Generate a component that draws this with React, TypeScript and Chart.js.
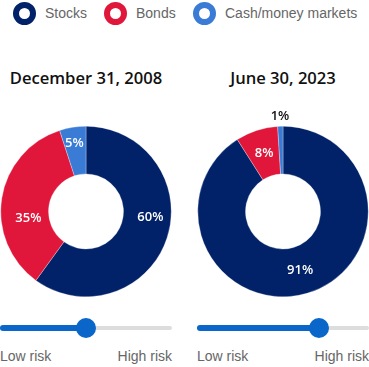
import React, { useEffect, useRef } from "react";
import { Chart, registerables } from "chart.js";

Chart.register(...registerables);

const categories = ["Stocks", "Bonds", "Cash/money markets"];
const colors = ["#012169", "#e0173b", "#3a7bd5"];
const dates = ["December 31, 2008", "June 30, 2023"];
const values2008 = [60, 35, 5];
const values2023 = [91, 8, 1];
const riskLevels = [0.5, 0.71];
const riskLabels = ["Low risk", "High risk"];

const FONT = "'Open Sans', 'Noto Sans', sans-serif";
const ARIAL = "'Liberation Sans', Arial, sans-serif";

type LabelOpt = { offsets?: Record<number, [number, number]>; outsideBelow?: number };

const labelPlugin = {
  id: "sliceLabels",
  afterDatasetsDraw(chart: any, _args: any, opts: LabelOpt) {
    const ctx = chart.ctx;
    const meta = chart.getDatasetMeta(0);
    const data = chart.data.datasets[0].data as number[];
    ctx.save();
    ctx.font = `600 13px ${FONT}`;
    ctx.textAlign = "center";
    ctx.textBaseline = "middle";
    meta.data.forEach((arc: any, i: number) => {
      const v = data[i];
      const { x, y, startAngle, endAngle, innerRadius, outerRadius } = arc.getProps(
        ["x", "y", "startAngle", "endAngle", "innerRadius", "outerRadius"],
        true
      );
      const mid = (startAngle + endAngle) / 2;
      let r = (innerRadius + outerRadius) / 2;
      let color = "#ffffff";
      if (v < (opts.outsideBelow ?? 0)) {
        r = outerRadius + 10;
        color = "#111111";
      }
      let lx = x + Math.cos(mid) * r;
      let ly = y + Math.sin(mid) * r;
      const off = opts.offsets?.[i];
      if (off) {
        lx += off[0];
        ly += off[1];
      }
      ctx.fillStyle = color;
      ctx.fillText(`${v}%`, lx, ly);
    });
    ctx.restore();
  },
};

function Donut({ values, left, offsets }: { values: number[]; left: number; offsets?: Record<number, [number, number]> }) {
  const ref = useRef<HTMLCanvasElement>(null);
  useEffect(() => {
    if (!ref.current) return;
    const chart = new Chart(ref.current, {
      type: "doughnut",
      data: {
        labels: categories,
        datasets: [
          {
            data: values,
            backgroundColor: colors,
            borderColor: "rgba(255,255,255,0.6)",
            borderWidth: 0.5,
          },
        ],
      },
      options: {
        animation: false,
        responsive: false,
        maintainAspectRatio: false,
        cutout: "44%",
        layout: { padding: { top: 26, bottom: 3, left: 0, right: 0 } },
        plugins: {
          legend: { display: false },
          tooltip: { enabled: false },
          sliceLabels: { offsets, outsideBelow: 3 },
        } as any,
      },
      plugins: [labelPlugin],
    });
    return () => chart.destroy();
  }, []);
  return (
    <canvas
      ref={ref}
      width={172}
      height={200}
      style={{ position: "absolute", left, top: 100, width: 172, height: 200 }}
    />
  );
}

function Slider({ left, level }: { left: number; level: number }) {
  const w = 172;
  const knob = level * w;
  return (
    <div style={{ position: "absolute", left, top: 316, width: w, height: 50 }}>
      <div style={{ position: "absolute", left: 0, top: 10, width: w, height: 4, borderRadius: 2, background: "#dddddd" }} />
      <div style={{ position: "absolute", left: 0, top: 9, width: knob, height: 6, borderRadius: 3, background: "#0a66c8" }} />
      <div
        style={{
          position: "absolute",
          left: knob - 10,
          top: 2,
          width: 20,
          height: 20,
          borderRadius: 10,
          background: "#0a66c8",
        }}
      />
      <div style={{ position: "absolute", left: 0, top: 32, font: `14px ${ARIAL}`, color: "#666666", lineHeight: "16px" }}>
        {riskLabels[0]}
      </div>
      <div style={{ position: "absolute", right: 0, top: 32, font: `14px ${ARIAL}`, color: "#666666", lineHeight: "16px" }}>
        {riskLabels[1]}
      </div>
    </div>
  );
}

export default function App() {
  useEffect(() => {
    document.body.style.margin = "0";
  }, []);
  const legendX = [13, 104, 193];
  return (
    <div style={{ position: "relative", width: 369, height: 367, background: "#fff", overflow: "hidden" }}>
      {categories.map((c, i) => (
        <div key={c} style={{ position: "absolute", left: legendX[i], top: 1, height: 24, display: "flex", alignItems: "center" }}>
          <div
            style={{
              width: 23,
              height: 23,
              boxSizing: "border-box",
              borderRadius: "50%",
              border: `6px solid ${colors[i]}`,
            }}
          />
          <span style={{ marginLeft: 9, font: `14px ${ARIAL}`, color: "#666666" }}>{c}</span>
        </div>
      ))}
      {dates.map((d, i) => (
        <div
          key={d}
          style={{
            position: "absolute",
            left: i === 0 ? 0 : 197,
            width: 172,
            top: 68,
            textAlign: "center",
            font: `600 16.6px ${FONT}`,
            color: "#111",
            lineHeight: "20px",
          }}
        >
          {d}
        </div>
      ))}
      <Donut values={values2008} left={0} offsets={{ 0: [6, -13], 1: [3, 16], 2: [-2, -8] }} />
      <Donut values={values2023} left={197} />
      <Slider left={0} level={riskLevels[0]} />
      <Slider left={197} level={riskLevels[1]} />
    </div>
  );
}
